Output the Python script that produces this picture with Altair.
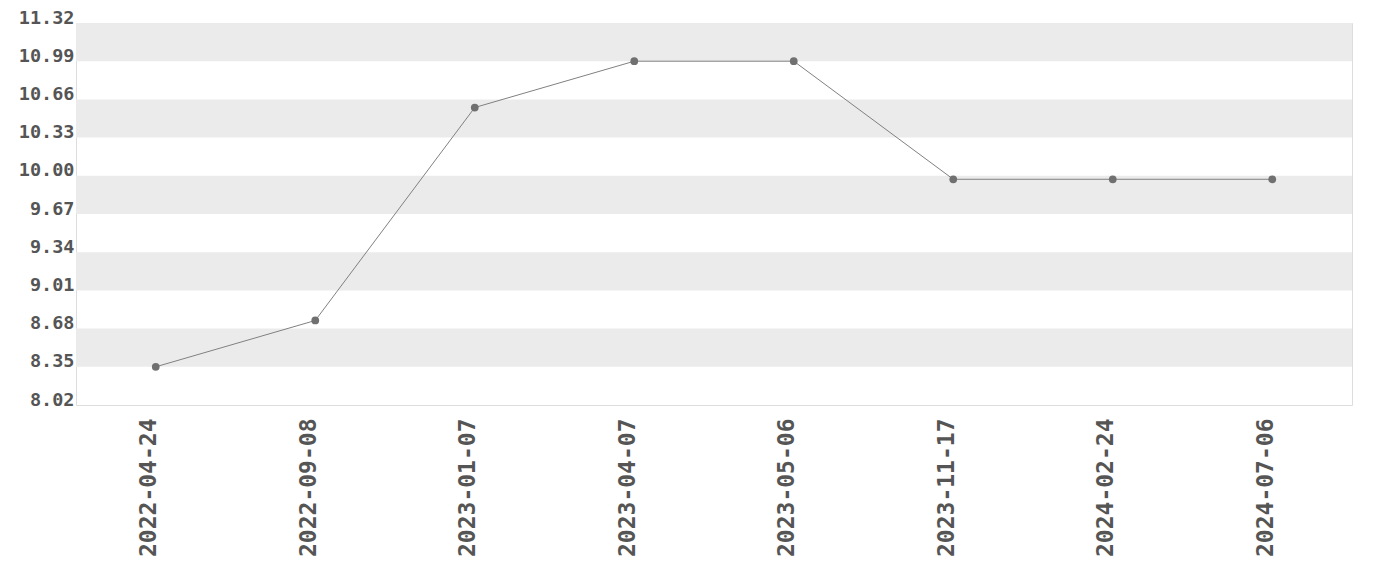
import altair as alt
import pandas as pd

dates = ["2022-04-24", "2022-09-08", "2023-01-07", "2023-04-07",
         "2023-05-06", "2023-11-17", "2024-02-24", "2024-07-06"]
values = [8.35, 8.75, 10.59, 10.99, 10.99, 9.97, 9.97, 9.97]
tick_values = [8.02, 8.35, 8.68, 9.01, 9.34, 9.67, 10.00, 10.33, 10.66, 10.99, 11.32]
band_lo = [10.99, 10.33, 9.67, 9.01, 8.35]
band_hi = [11.32, 10.66, 10.00, 9.34, 8.68]

df = pd.DataFrame({"date": dates, "value": values})
bands = pd.DataFrame({"lo": band_lo, "hi": band_hi})

W, H = 1276, 382
FONT = "DejaVu Sans Mono"

yscale = alt.Scale(domain=[8.02, 11.32], nice=False, zero=False)
xscale = alt.Scale(type="point", padding=0.5)
yaxis = alt.Axis(values=tick_values, format=".2f", title=None,
                 ticks=False, domain=False, grid=False,
                 labelBaseline="alphabetic", labelPadding=2,
                 labelOverlap=False, labelFontSize=18.5)
xaxis = alt.Axis(title=None, labelAngle=270, ticks=False,
                 domain=False, grid=False, labelPadding=13,
                 labelBaseline="alphabetic",
                 labelOverlap=False, labelFontSize=23)

band_layer = alt.Chart(bands).mark_rect(color="#ebebeb").encode(
    x=alt.value(0), x2=alt.value(W),
    y=alt.Y("lo:Q", scale=yscale, axis=yaxis),
    y2="hi:Q",
)

line = alt.Chart(df).mark_line(color="#808080", strokeWidth=1).encode(
    x=alt.X("date:N", sort=None, scale=xscale, axis=xaxis),
    y=alt.Y("value:Q", scale=yscale, axis=yaxis))
pts = alt.Chart(df).mark_point(filled=True, color="#707070", size=60, opacity=1).encode(
    x=alt.X("date:N", sort=None, scale=xscale, axis=xaxis),
    y=alt.Y("value:Q", scale=yscale, axis=yaxis))

chart = alt.layer(band_layer, line, pts).properties(
    width=W, height=H,
    autosize=alt.AutoSizeParams(type="none"),
    padding={"left": 68, "top": 15, "right": 20, "bottom": 167},
).configure_view(stroke="#dddddd").configure_axis(
    labelFont=FONT, labelFontWeight="bold", labelColor="#555555",
    labelOverlap=False
)

chart.save("out.html", embed_options={"renderer": "svg", "actions": False})
